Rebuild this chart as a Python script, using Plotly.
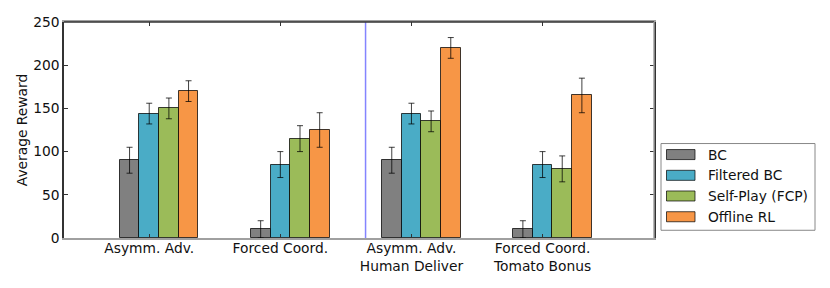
import plotly.graph_objects as go

categories = ["Asymm. Adv.", "Forced Coord.", "Asymm. Adv.<br>Human Deliver", "Forced Coord.<br>Tomato Bonus"]
series_names = ["BC", "Filtered BC", "Self-Play (FCP)", "Offline RL"]
bc_vals = [90, 10, 90, 10]
bc_err = [15, 10, 15, 10]
fbc_vals = [144, 85, 144, 85]
fbc_err = [12, 15, 12, 15]
fcp_vals = [150, 115, 135, 80]
fcp_err = [12, 15, 12, 15]
rl_vals = [170, 125, 220, 165]
rl_err = [12, 20, 12, 20]
y_ticks = [0, 50, 100, 150, 200, 250]

colors = ["#808080", "#4aacc6", "#9bbb59", "#f79646"]
values = [bc_vals, fbc_vals, fcp_vals, rl_vals]
errors = [bc_err, fbc_err, fcp_err, rl_err]

# page body has an 8px margin; compensate so the plot lands at the intended window pixels
OFF = 8
W, H = 830 - OFF, 288 - OFF
PL, PR, PT, PB = 64, 654, 22.3, 237.7   # plot area in window pixels
PW, PH = PR - PL, PB - PT
ML, MT = PL - OFF, PT - OFF
MR = W - ML - PW
MB = H - MT - PH
FONT = "DejaVu Sans"
FS = 13.8

bw = 0.15
base = list(range(len(categories)))

fig = go.Figure()
for k, (name, vals, errs, col) in enumerate(zip(series_names, values, errors, colors)):
    fig.add_trace(go.Bar(
        x=[b + (k - 1) * bw for b in base],
        y=vals,
        width=bw,
        name=name,
        marker=dict(color=col, line=dict(color="rgba(0,0,0,0.75)", width=1)),
        error_y=dict(type="data", array=errs, visible=True, color="rgba(0,0,0,0.75)", thickness=1, width=3),
        showlegend=False,
    ))

def px_x(px):
    return (px - PL) / PW

def px_y(py):
    return (PB - py) / PH

shapes = []
shapes.append(dict(type="line", xref="x", yref="y domain", x0=1.65, x1=1.65, y0=0, y1=1,
                   line=dict(color="rgba(110,110,255,0.85)", width=1.5), layer="above"))
shapes.append(dict(type="line", xref="paper", yref="paper", x0=0, x1=1, y0=1, y1=1,
                   line=dict(color="#333333", width=1.5), layer="above"))
shapes.append(dict(type="line", xref="paper", yref="paper", x0=1, x1=1, y0=0, y1=1,
                   line=dict(color="#a0a0a0", width=1.5), layer="above"))

shapes.append(dict(type="rect", xref="paper", yref="paper",
                   x0=px_x(661), x1=px_x(815), y0=px_y(230), y1=px_y(143.5),
                   line=dict(color="#888888", width=1), fillcolor="white", layer="above"))
annotations = []
row_y = [154.5, 175.2, 195.8, 216.5]
for name, col, ry in zip(series_names, colors, row_y):
    shapes.append(dict(type="rect", xref="paper", yref="paper",
                       x0=px_x(666.5), x1=px_x(695), y0=px_y(ry + 5), y1=px_y(ry - 5),
                       line=dict(color="rgba(0,0,0,0.7)", width=1), fillcolor=col, layer="above"))
    annotations.append(dict(xref="paper", yref="paper", x=px_x(706), y=px_y(ry),
                            xanchor="left", yanchor="middle", text=name, showarrow=False,
                            font=dict(family=FONT, size=FS, color="#111111")))

fig.update_layout(
    width=W, height=H, autosize=False,
    margin=dict(l=ML, r=MR, t=MT, b=MB, pad=0, autoexpand=False),
    plot_bgcolor="white", paper_bgcolor="white",
    barmode="overlay",
    bargap=0,
    font=dict(family=FONT, size=FS, color="#111111"),
    shapes=shapes,
    annotations=annotations,
    xaxis=dict(
        range=[-0.65, 3.85], tickvals=base, ticktext=categories, automargin=False,
        showgrid=False, zeroline=False, showline=True, linecolor="#a0a0a0", linewidth=1.5,
        mirror="ticks", ticks="inside", ticklen=4, tickcolor="#333333", tickwidth=1,
        ticklabelstandoff=-3,
        tickfont=dict(family=FONT, size=FS, color="#111111"),
    ),
    yaxis=dict(
        range=[0, 250], tickvals=y_ticks, automargin=False,
        showgrid=False, zeroline=False, showline=True, linecolor="#333333", linewidth=1.5,
        mirror="ticks", ticks="inside", ticklen=4, tickcolor="#333333", tickwidth=1,
        tickfont=dict(family=FONT, size=FS, color="#111111"),
        title=dict(text="Average Reward", font=dict(family=FONT, size=FS, color="#111111"), standoff=2),
    ),
)

fig.write_html("out.html")
